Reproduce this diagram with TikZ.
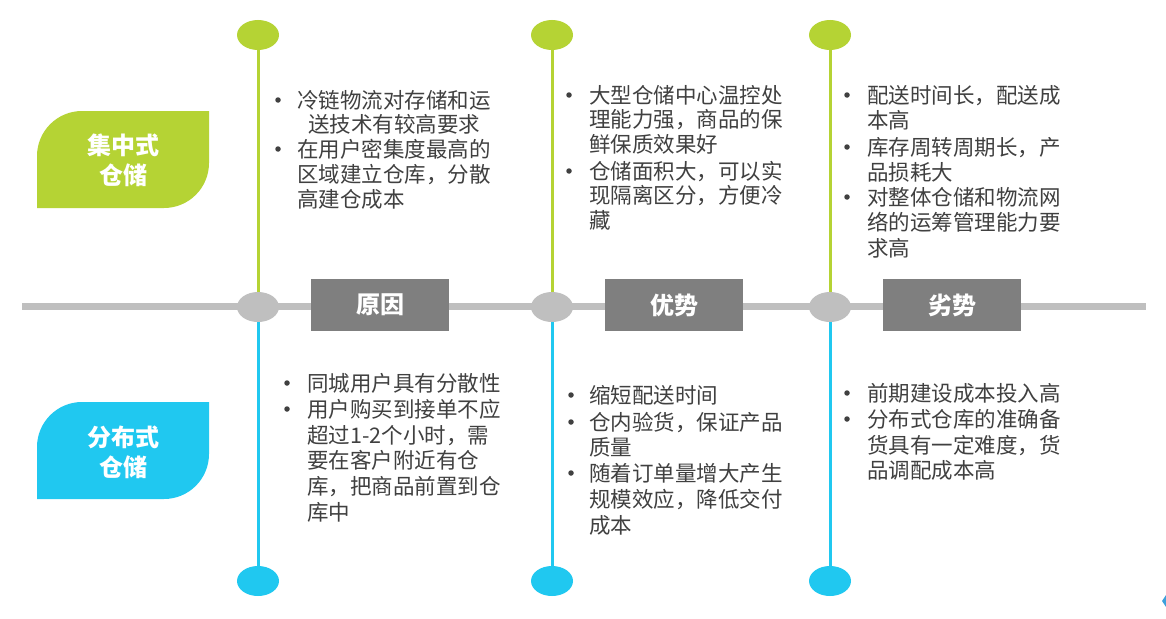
\documentclass[tikz,border=0pt]{standalone}
\usepackage{fontspec}
\setmainfont{Noto Sans CJK SC}
\usetikzlibrary{shapes.geometric}
\definecolor{cgreen}{HTML}{B5D334}
\definecolor{cblue}{HTML}{20C8F0}
\definecolor{cgray}{HTML}{BFBFBF}
\definecolor{cbox}{HTML}{7F7F7F}
\definecolor{ctext}{HTML}{404040}
\definecolor{cfrag}{HTML}{3DA0DC}
\tikzset{
  dotnode/.style={ellipse, minimum width=42pt, minimum height=30pt, inner sep=0pt},
  txt/.style={anchor=base west, inner sep=0pt, text=ctext, font=\fontsize{21.5}{25}\selectfont},
  bul/.style={circle, fill=ctext, minimum size=5.5pt, inner sep=0pt},
  hdr/.style={fill=cbox, text=white, minimum width=138pt, minimum height=52pt, inner sep=0pt, font=\fontsize{24}{28}\selectfont\bfseries},
  ttl/.style={anchor=base, text=white, inner sep=0pt, font=\fontsize{24}{28}\selectfont\bfseries},
  axis/.style={draw=cgray, line width=7pt},
  gline/.style={draw=cgreen, line width=3pt},
  bline/.style={draw=cblue, line width=3pt},
}
\newcommand\myline[4]{\node[txt] (#1) at (#2,#3+8) {#4};}
\newcommand\mybul[3]{\node[bul] (#1) at (#2,#3) {};}
\begin{document}
\begin{tikzpicture}[x=1pt,y=-1pt]
\useasboundingbox (0,0) rectangle (1166,618);
\fill[white] (0,0) rectangle (1166,618);
% horizontal axis
\coordinate (hl) at (22,306.5);
\coordinate (hr) at (1146,306.5);
\draw[axis] (hl) -- (hr);
% leaf labels
\fill[cgreen] (37,208) -- (37,156) .. controls (37,131.15) and (57.15,111) .. (82,111) -- (209,111) -- (209,163) .. controls (209,187.85) and (188.85,208) .. (164,208) -- cycle;
\fill[cblue] (37,499) -- (37,447) .. controls (37,422.15) and (57.15,402) .. (82,402) -- (209,402) -- (209,454) .. controls (209,478.85) and (188.85,499) .. (164,499) -- cycle;
\node[ttl] (g1) at (123,154) {集中式};
\node[ttl] (g2) at (123,184) {仓储};
\node[ttl] (d1) at (123,446) {分布式};
\node[ttl] (d2) at (123,476) {仓储};
% dots
\foreach \c/\x in {1/258,2/552,3/830}{
  \node[dotnode, fill=cgreen] (t\c) at (\x,35) {};
  \node[dotnode, fill=cgray] (m\c) at (\x,307) {};
  \node[dotnode, fill=cblue] (b\c) at (\x,581) {};
  \draw[gline] (t\c) -- (m\c);
  \draw[bline] (m\c) -- (b\c);
}
% headers
\node[hdr] (h1) at (380,305) {原因};
\node[hdr] (h2) at (674,305) {优势};
\node[hdr] (h3) at (952,305) {劣势};
% top column 1
\mybul{p11}{278}{100}
\myline{a11}{297}{100}{冷链物流对存储和运}
\myline{a12}{308}{124}{送技术有较高要求}
\mybul{p12}{278}{149}
\myline{a13}{297}{149}{在用户密集度最高的}
\myline{a14}{297}{174}{区域建立仓库，分散}
\myline{a15}{297}{199}{高建仓成本}
% top column 2
\mybul{p21}{569}{95}
\myline{a21}{589}{95}{大型仓储中心温控处}
\myline{a22}{589}{119}{理能力强，商品的保}
\myline{a23}{589}{144}{鲜保质效果好}
\mybul{p22}{569}{171}
\myline{a24}{589}{171}{仓储面积大，可以实}
\myline{a25}{589}{195}{现隔离区分，方便冷}
\myline{a26}{589}{220}{藏}
% top column 3
\mybul{p31}{847}{95}
\myline{a31}{867}{95}{配送时间长，配送成}
\myline{a32}{867}{120}{本高}
\mybul{p32}{847}{147}
\myline{a33}{867}{147}{库存周转周期长，产}
\myline{a34}{867}{172}{品损耗大}
\mybul{p33}{847}{197}
\myline{a35}{867}{197}{对整体仓储和物流网}
\myline{a36}{867}{222}{络的运筹管理能力要}
\myline{a37}{867}{248}{求高}
% bottom column 1
\mybul{q11}{287}{383}
\myline{c11}{307}{383}{同城用户具有分散性}
\mybul{q12}{287}{409}
\myline{c12}{307}{409}{用户购买到接单不应}
\myline{c13}{307}{435}{超过1-2个小时，需}
\myline{c14}{307}{460}{要在客户附近有仓}
\myline{c15}{307}{486}{库，把商品前置到仓}
\myline{c16}{307}{512}{库中}
% bottom column 2
\mybul{q21}{571}{395}
\myline{c21}{589}{395}{缩短配送时间}
\mybul{q22}{571}{422}
\myline{c22}{589}{422}{仓内验货，保证产品}
\myline{c23}{589}{447}{质量}
\mybul{q23}{571}{473}
\myline{c24}{589}{473}{随着订单量增大产生}
\myline{c25}{589}{499}{规模效应，降低交付}
\myline{c26}{589}{525}{成本}
% bottom column 3
\mybul{q31}{847}{393}
\myline{c31}{867}{393}{前期建设成本投入高}
\mybul{q32}{847}{419}
\myline{c32}{867}{419}{分布式仓库的准确备}
\myline{c33}{867}{445}{货具有一定难度，货}
\myline{c34}{867}{470}{品调配成本高}
% fragment at right edge
\fill[cfrag] (1166,595) -- (1162,601) -- (1166,607) -- cycle;
\end{tikzpicture}
\end{document}
